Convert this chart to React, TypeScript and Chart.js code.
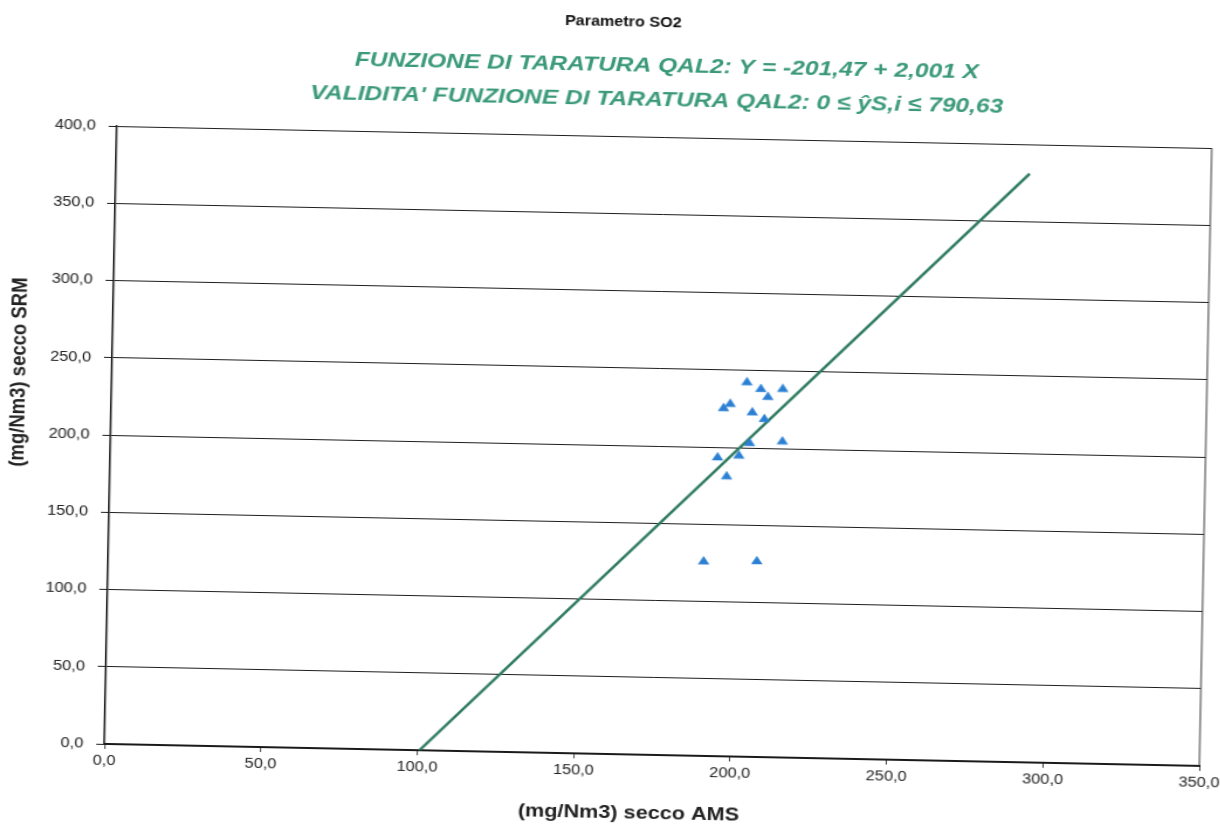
import React, { useEffect, useRef } from "react";
import { Chart, registerables } from "chart.js";

Chart.register(...registerables);

// ---- text ----
const chartTitle = "Parametro SO2";
const subtitleLines = [
  "FUNZIONE DI TARATURA QAL2: Y = -201,47 + 2,001 X",
  "VALIDITA' FUNZIONE DI TARATURA QAL2: 0 ≤ ŷS,i ≤ 790,63",
];
const xAxisTitle = "(mg/Nm3) secco AMS";
const yAxisTitle = "(mg/Nm3) secco SRM";

// ---- ticks ----
const xTickValues = [0, 50, 100, 150, 200, 250, 300, 350];
const yTickValues = [0, 50, 100, 150, 200, 250, 300, 350, 400];

// ---- data: measured pairs (AMS on x, SRM on y) ----
const amsValues = [203.0, 207.5, 214.5, 209.8, 197.8, 195.7, 204.9, 208.8, 204.2, 214.7, 194.1, 200.9, 197.1, 190.3, 207.3];
const srmValues = [242.3, 238.1, 238.4, 233.0, 228.1, 225.2, 222.9, 218.7, 203.0, 204.4, 193.3, 194.7, 181.1, 125.8, 126.6];

// ---- calibration line end points (as drawn) ----
const calibLineX = [100.7, 292.0];
const calibLineY = [0, 381.0];

// ---- styling / layout ----
const STRETCH = 1.17; // horizontal stretch of the scanned page
const ROTATE_DEG = 1.15; // tilt of the scanned page
const CANVAS_H = 824;
const CANVAS_W = 1060;
const PLOT_RIGHT = 1031;
const FONT = "'Liberation Sans', Arial, sans-serif";
const GREEN_TEXT = "#3a9979";
const GREEN_LINE = "#2d7a5e";
const MARKER_BLUE = "#2c80d4";

const fmt = (v: number) => v.toFixed(1).replace(".", ",");

const textPlugin = {
  id: "scanTexts",
  afterDraw(chart: any) {
    const { ctx, chartArea } = chart;
    ctx.save();
    // right border of plot area
    ctx.strokeStyle = "#333";
    ctx.lineWidth = 1;
    ctx.beginPath();
    ctx.moveTo(chartArea.right, chartArea.top);
    ctx.lineTo(chartArea.right, chartArea.bottom);
    ctx.stroke();

    ctx.textAlign = "center";
    ctx.textBaseline = "middle";
    ctx.fillStyle = "#111";
    ctx.font = `bold 13.8px ${FONT}`;
    ctx.fillText(chartTitle, 526, 22);

    ctx.fillStyle = GREEN_TEXT;
    ctx.font = `italic bold 21px ${FONT}`;
    ctx.fillText(subtitleLines[0], 564, 65);
    ctx.fillText(subtitleLines[1], 556, 99);

    ctx.fillStyle = "#222";
    ctx.font = `bold 18.5px ${FONT}`;
    ctx.fillText(xAxisTitle, 544, 813);

    ctx.translate(16, 384);
    ctx.rotate(-Math.PI / 2);
    ctx.fillText(yAxisTitle, 0, 0);
    ctx.restore();
  },
};

export default function App() {
  const ref = useRef<HTMLCanvasElement>(null);

  useEffect(() => {
    const points = amsValues.map((x, i) => ({ x, y: srmValues[i] }));
    const linePts = calibLineX.map((x, i) => ({ x, y: calibLineY[i] }));
    const chart = new Chart(ref.current as HTMLCanvasElement, {
      type: "scatter",
      data: {
        datasets: [
          {
            type: "line",
            label: "Funzione di taratura",
            data: linePts,
            borderColor: GREEN_LINE,
            borderWidth: 2.5,
            pointRadius: 0,
            fill: false,
            order: 2,
          } as any,
          {
            label: "Dati",
            data: points,
            pointStyle: "triangle",
            pointRadius: 5.2,
            backgroundColor: MARKER_BLUE,
            borderColor: MARKER_BLUE,
            borderWidth: 0.5,
            order: 1,
          },
        ],
      },
      options: {
        responsive: false,
        animation: false,
        devicePixelRatio: 1,
        layout: { padding: { top: 136, right: CANVAS_W - PLOT_RIGHT, left: 0, bottom: 0 } },
        plugins: {
          legend: { display: false },
          title: { display: false },
          tooltip: { enabled: false },
        },
        scales: {
          x: {
            type: "linear",
            min: 0,
            max: 350,
            afterBuildTicks: (s: any) => {
              s.ticks = xTickValues.map((v) => ({ value: v }));
            },
            afterFit: (s: any) => {
              s.height = 70;
              s.paddingLeft = 0;
              s.paddingRight = 0;
            },
            ticks: {
              callback: (v: any) => fmt(Number(v)),
              color: "#222",
              font: { family: FONT, size: 14 },
              padding: 4,
              maxRotation: 0,
            },
            grid: {
              drawOnChartArea: false,
              drawTicks: true,
              tickLength: 5,
              color: "#444",
            },
            border: { display: true, color: "#1a1a1a", width: 2 },
          },
          y: {
            type: "linear",
            min: 0,
            max: 400,
            afterBuildTicks: (s: any) => {
              s.ticks = yTickValues.map((v) => ({ value: v }));
            },
            afterFit: (s: any) => {
              s.width = 95;
              s.paddingTop = 0;
              s.paddingBottom = 0;
            },
            ticks: {
              callback: (v: any) => fmt(Number(v)),
              color: "#222",
              font: { family: FONT, size: 14 },
              padding: 11,
            },
            grid: {
              drawTicks: true,
              tickLength: 7,
              color: "#1e1e1e",
              lineWidth: 1,
            },
            border: { display: true, color: "#1a1a1a", width: 1.5 },
          },
        },
      },
      plugins: [textPlugin],
    });
    return () => chart.destroy();
  }, []);

  return (
    <div
      style={{
        position: "fixed",
        left: 0,
        top: 0,
        width: 1220,
        height: 824,
        overflow: "hidden",
        background: "#fff",
      }}
    >
      <div
        style={{
          position: "absolute",
          left: 0,
          top: 0,
          width: 1220,
          height: 824,
          transform: `rotate(${ROTATE_DEG}deg)`,
          transformOrigin: "610px 412px",
        }}
      >
        <div
          style={{
            position: "absolute",
            left: 0,
            top: 0,
            width: CANVAS_W,
            height: CANVAS_H,
            transform: `scaleX(${STRETCH})`,
            transformOrigin: "0 0",
          }}
        >
          <canvas
            ref={ref}
            width={CANVAS_W}
            height={CANVAS_H}
            style={{ display: "block", width: CANVAS_W, height: CANVAS_H }}
          />
        </div>
      </div>
    </div>
  );
}
